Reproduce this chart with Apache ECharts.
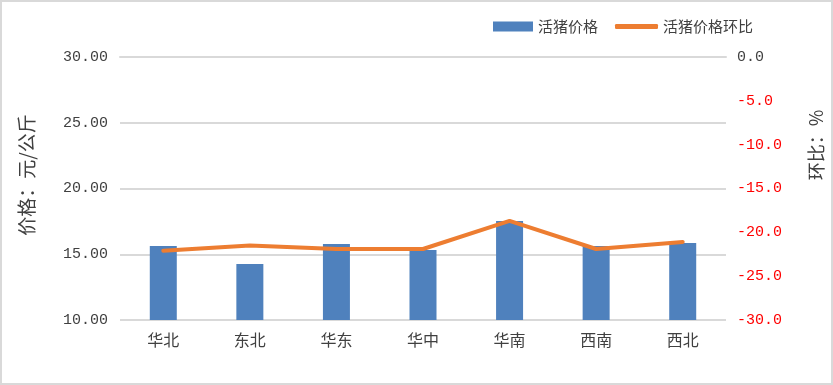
<!DOCTYPE html>
<html>
<head>
<meta charset="utf-8">
<script src="https://cdn.jsdelivr.net/npm/echarts@6/dist/echarts.min.js"></script>
<style>
html,body{margin:0;padding:0;background:#fff;}
#c{width:833px;height:385px;}
</style>
</head>
<body>
<div id="c"></div>
<script>
var categories = ['华北', '东北', '华东', '华中', '华南', '西南', '西北'];
var priceValues = [15.63, 14.26, 15.78, 15.32, 17.53, 15.62, 15.86];
var momValues = [-22.1, -21.5, -21.9, -21.9, -18.7, -21.9, -21.1];
var leftTicks = { min: 10, max: 30, interval: 5 };
var rightTicks = { min: -30, max: 0, interval: 5 };
var seriesNames = ['活猪价格', '活猪价格环比'];
var leftAxisName = '价格：元/公斤';
var rightAxisName = '环比：%';

var numFont = '"Liberation Mono", "DejaVu Sans Mono", monospace';
var cjkFont = '"Noto Sans CJK SC", sans-serif';

var chart = echarts.init(document.getElementById('c'), null, { renderer: 'canvas' });
chart.setOption({
  animation: false,
  backgroundColor: '#fff',
  grid: { left: 120, right: 107, top: 57, bottom: 65, containLabel: false },
  legend: [
    {
      data: [{ name: seriesNames[0], icon: 'rect' }],
      left: 493, top: 19, padding: 0,
      itemWidth: 40, itemHeight: 10, itemGap: 0,
      textStyle: { fontFamily: cjkFont, fontSize: 15, color: '#404040' },
      selectedMode: false
    },
    {
      data: [{ name: seriesNames[1], icon: 'roundRect' }],
      left: 615, top: 19, padding: 0,
      itemWidth: 43, itemHeight: 5, itemGap: 0,
      textStyle: { fontFamily: cjkFont, fontSize: 15, color: '#404040' },
      selectedMode: false
    }
  ],
  xAxis: {
    type: 'category',
    data: categories,
    axisLine: { show: true, lineStyle: { color: '#D9D9D9', width: 2 } },
    axisTick: { show: false },
    axisLabel: { fontFamily: cjkFont, fontSize: 16, color: '#404040', margin: 12 }
  },
  yAxis: [
    {
      type: 'value',
      min: leftTicks.min, max: leftTicks.max, interval: leftTicks.interval,
      axisLine: { show: false },
      axisTick: { show: false },
      splitLine: { show: true, lineStyle: { color: '#D9D9D9', width: 2 } },
      axisLabel: {
        fontFamily: numFont, fontSize: 15, color: '#404040', margin: 12,
        formatter: function (v) { return v.toFixed(2); }
      }
    },
    {
      type: 'value',
      min: rightTicks.min, max: rightTicks.max, interval: rightTicks.interval,
      position: 'right',
      axisLine: { show: false },
      axisTick: { show: false },
      splitLine: { show: false },
      axisLabel: {
        fontFamily: numFont, fontSize: 15, margin: 11,
        color: function (v) { return Number(v) === 0 ? '#404040' : '#FF0000'; },
        formatter: function (v) { return v.toFixed(1); }
      }
    }
  ],
  series: [
    {
      name: seriesNames[0],
      type: 'bar',
      yAxisIndex: 0,
      data: priceValues,
      barWidth: 27,
      itemStyle: { color: '#4F81BD' }
    },
    {
      name: seriesNames[1],
      type: 'line',
      yAxisIndex: 1,
      data: momValues,
      symbol: 'none',
      lineStyle: { color: '#ED7D31', width: 4, cap: 'round', join: 'round' },
      itemStyle: { color: '#ED7D31' }
    }
  ],
  graphic: [
    {
      type: 'rect', silent: true, z: -10,
      shape: { x: 1, y: 1, width: 831, height: 383 },
      style: { fill: 'none', stroke: '#D9D9D9', lineWidth: 2 }
    },
    {
      type: 'text', x: 27, y: 175, rotation: Math.PI / 2,
      style: { text: leftAxisName, fontFamily: cjkFont, fontSize: 19, fill: '#404040', textAlign: 'center', textVerticalAlign: 'middle' }
    },
    {
      type: 'text', x: 816, y: 145, rotation: Math.PI / 2,
      style: { text: rightAxisName, fontFamily: cjkFont, fontSize: 18, fill: '#404040', textAlign: 'center', textVerticalAlign: 'middle' }
    }
  ]
});
</script>
</body>
</html>
